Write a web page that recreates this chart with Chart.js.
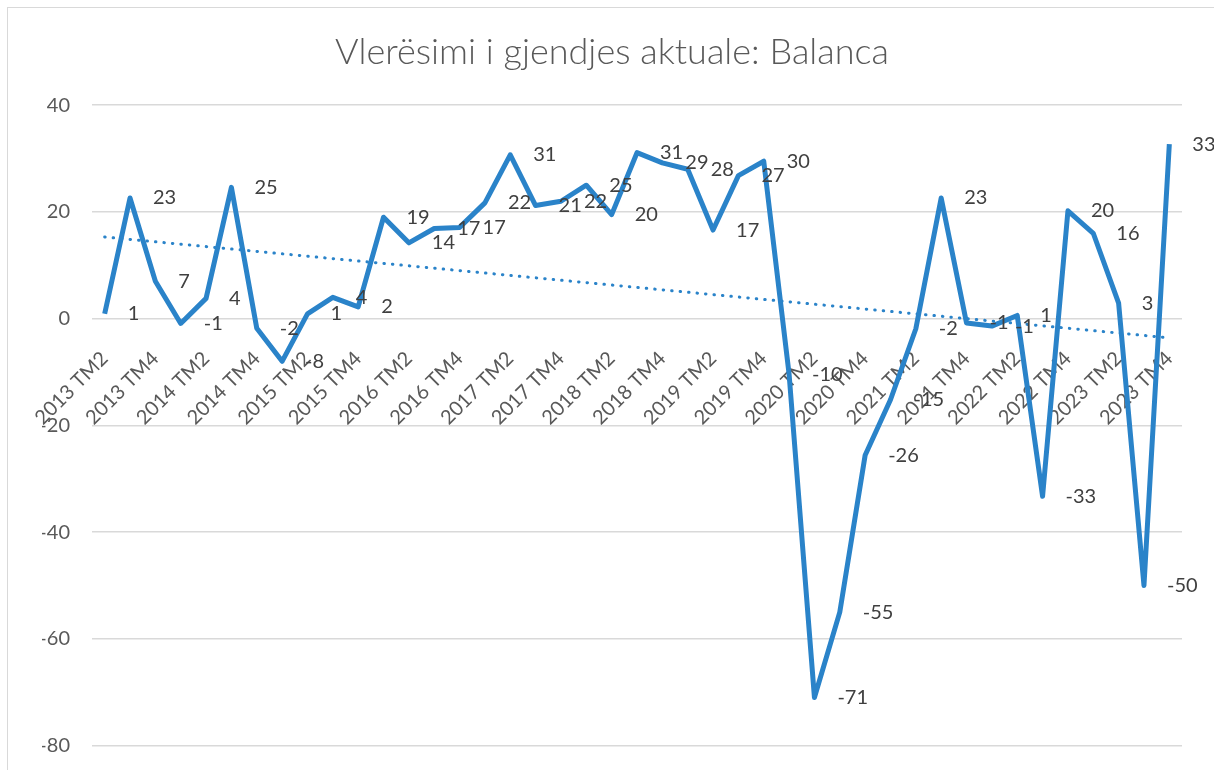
<!DOCTYPE html>
<html>
<head>
<meta charset="utf-8">
<script src="https://cdn.jsdelivr.net/npm/chart.js@4"></script>
<style>
  html, body { margin: 0; padding: 0; background: #fff; }
  #wrap { position: relative; width: 1214px; height: 770px; overflow: hidden; }
  #frame { position: absolute; left: 7px; top: 7px; width: 1400px; height: 900px; border: 1px solid #d9d9d9; }
  #chart { position: absolute; left: 0; top: 0; }
</style>
</head>
<body>
<div id="wrap">
  <div id="frame"></div>
  <canvas id="chart" width="1214" height="770"></canvas>
</div>
<script>
// quarters 2013 TM2 .. 2023 TM4
const years = [2013, 2014, 2015, 2016, 2017, 2018, 2019, 2020, 2021, 2022, 2023];
const quarters = ['TM1', 'TM2', 'TM3', 'TM4'];
const categories = [];
years.forEach(y => quarters.forEach(q => {
    if (!(y === 2013 && q === 'TM1')) categories.push(y + ' ' + q);
}));

// Balanca
const balanca = [
    0.9, 22.6, 7.0, -0.9, 3.8, 24.6, -1.8, -8.0, 0.9, 4.0,
    2.2, 19.0, 14.2, 16.9, 17.1, 21.7, 30.7, 21.2, 22.0, 25.0,
    19.5, 31.1, 29.2, 28.0, 16.6, 26.8, 29.5, -10.4, -71.0, -55.0,
    -25.6, -15.2, -1.9, 22.6, -0.8, -1.4, 0.6, -33.3, 20.2, 16.0,
    2.9, -50.0, 32.7
];

// linear trend, endpoints
const trendStart = 15.3;
const trendEnd = -3.6;
const trend = categories.map((c, i) => i === 0 ? trendStart : (i === categories.length - 1 ? trendEnd : null));

const yTicks = [40, 20, 0, -20, -40, -60, -80];

const lineColor = '#2a83c9';
const textColor = '#595959';

// data labels to the right of each point
const pointLabels = {
    id: 'pointLabels',
    afterDatasetsDraw(chart) {
        const ctx = chart.ctx;
        const meta = chart.getDatasetMeta(0);
        ctx.save();
        ctx.font = '20px Lato';
        ctx.fillStyle = '#404040';
        ctx.textAlign = 'left';
        ctx.textBaseline = 'middle';
        meta.data.forEach((pt, i) => {
            ctx.fillText(String(Math.round(balanca[i])), pt.x + 23, pt.y);
        });
        ctx.restore();
    }
};

new Chart(document.getElementById('chart'), {
    type: 'line',
    data: {
        labels: categories,
        datasets: [
            {
                data: balanca,
                borderColor: lineColor,
                borderWidth: 5,
                borderJoinStyle: 'round',
                pointRadius: 0,
                tension: 0,
                order: 0
            },
            {
                data: trend,
                borderColor: lineColor,
                borderWidth: 3,
                borderDash: [0.5, 8],
                borderCapStyle: 'round',
                pointRadius: 0,
                spanGaps: true,
                order: 1
            }
        ]
    },
    options: {
        responsive: false,
        animation: false,
        layout: { padding: { left: 42, right: 32, top: 10, bottom: 24.5 } },
        plugins: {
            legend: { display: false },
            tooltip: { enabled: false },
            title: {
                display: true,
                text: 'Vlerësimi i gjendjes aktuale: Balanca',
                color: textColor,
                font: { family: 'Lato', size: 36, weight: 300 },
                padding: { top: 21, bottom: 31 }
            }
        },
        scales: {
            x: {
                position: { y: 0 },
                offset: true,
                grid: { display: false },
                border: { display: false },
                ticks: {
                    autoSkip: false,
                    minRotation: 45,
                    maxRotation: 45,
                    padding: 20,
                    color: textColor,
                    font: { family: 'Lato', size: 20 },
                    callback: (v, i) => i % 2 === 0 ? categories[i] : ''
                }
            },
            y: {
                min: -80,
                max: 40,
                afterFit: s => { s.width = 50; s.paddingTop = 0; s.paddingBottom = 0; },
                afterBuildTicks: s => { s.ticks = yTicks.map(v => ({ value: v })); },
                grid: { color: '#d9d9d9', lineWidth: 1.5, drawTicks: false },
                border: { display: false },
                ticks: {
                    padding: 22,
                    color: textColor,
                    font: { family: 'Lato', size: 20 }
                }
            }
        }
    },
    plugins: [pointLabels]
});
</script>
</body>
</html>
